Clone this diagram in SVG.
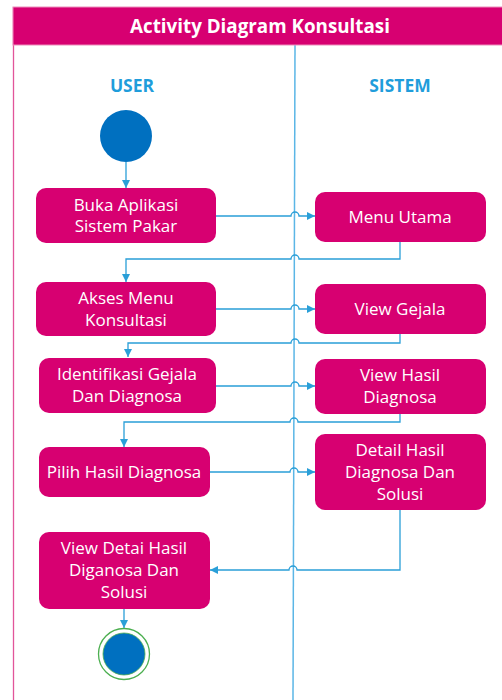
<svg xmlns="http://www.w3.org/2000/svg" width="502" height="700" viewBox="0 0 502 700">
<style>
.box{fill:#D70071;}
.bt{font-family:"Open Sans","Noto Sans",sans-serif;font-size:17px;fill:#ffffff;text-anchor:middle;}
.lane{font-family:"Open Sans","Noto Sans",sans-serif;font-size:17.5px;font-weight:bold;fill:#1F9DDB;text-anchor:middle;}
.c{fill:none;stroke:#2A9FD8;stroke-width:1.3;}
</style>
<defs>
<marker id="ah" viewBox="0 0 10 10" refX="10" refY="5" markerWidth="8" markerHeight="8" markerUnits="userSpaceOnUse" orient="auto">
<path d="M0,0 L10,5 L0,10 Z" fill="#2A9FD8"/>
</marker>
</defs>
<rect x="0" y="0" width="502" height="700" fill="#ffffff"/>
<g id="pool">
<line x1="13.5" y1="7" x2="13.5" y2="700" stroke="#E2559A" stroke-width="1.3"/>
<line x1="295" y1="45" x2="293" y2="700" stroke="#5BB6E6" stroke-width="1.5"/>
<rect x="13" y="7" width="495" height="38" fill="#D70071" stroke="#EC8DBB" stroke-width="1"/>
<text x="260" y="32.5" font-family="'Open Sans','Noto Sans',sans-serif" font-size="18.8px" font-weight="bold" fill="#ffffff" text-anchor="middle">Activity Diagram Konsultasi</text>
<text class="lane" x="132" y="92">USER</text>
<text class="lane" x="400" y="92">SISTEM</text>
</g>
<g id="connectors">
<path class="c" d="M126,162 L126,188" marker-end="url(#ah)"/>
<path class="c" d="M216,216 L291,216 A4,4 0 0 1 299,216 L315,216" marker-end="url(#ah)"/>
<path class="c" d="M400,242 L400,259 L299,259 A4,4 0 0 0 291,259 L126,259 L126,282" marker-end="url(#ah)"/>
<path class="c" d="M216,309 L291,309 A4,4 0 0 1 299,309 L315,309" marker-end="url(#ah)"/>
<path class="c" d="M400,334 L400,343 L299,343 A4,4 0 0 0 291,343 L128,343 L128,357" marker-end="url(#ah)"/>
<path class="c" d="M216,386 L291,386 A4,4 0 0 1 299,386 L315,386" marker-end="url(#ah)"/>
<path class="c" d="M400,414 L400,422 L298,422 A4,4 0 0 0 290,422 L124,422 L124,447" marker-end="url(#ah)"/>
<path class="c" d="M210,472 L290,472 A4,4 0 0 1 298,472 L315,472" marker-end="url(#ah)"/>
<path class="c" d="M400,510 L400,570 L297,570 A4,4 0 0 0 289,570 L210,570" marker-end="url(#ah)"/>
<path class="c" d="M124,609 L124,628" marker-end="url(#ah)"/>
</g>
<g id="start"><circle cx="126" cy="136" r="26" fill="#0070C0"/></g>
<g id="n1"><rect class="box" x="36" y="188" width="180" height="55" rx="10"/><text class="bt" x="126" y="211">Buka Aplikasi</text><text class="bt" x="126" y="232">Sistem Pakar</text></g>
<g id="n2"><rect class="box" x="315" y="192" width="171" height="50" rx="10"/><text class="bt" x="400" y="223">Menu Utama</text></g>
<g id="n3"><rect class="box" x="36" y="282" width="180" height="54" rx="10"/><text class="bt" x="126" y="304">Akses Menu</text><text class="bt" x="126" y="326">Konsultasi</text></g>
<g id="n4"><rect class="box" x="315" y="284" width="171" height="50" rx="10"/><text class="bt" x="400" y="315">View Gejala</text></g>
<g id="n5"><rect class="box" x="39" y="358" width="177" height="55" rx="10"/><text class="bt" x="127" y="380">Identifikasi Gejala</text><text class="bt" x="127" y="402">Dan Diagnosa</text></g>
<g id="n6"><rect class="box" x="315" y="359" width="171" height="55" rx="10"/><text class="bt" x="400" y="381">View Hasil</text><text class="bt" x="400" y="403">Diagnosa</text></g>
<g id="n7"><rect class="box" x="39" y="447" width="171" height="50" rx="10"/><text class="bt" x="124" y="478">Pilih Hasil Diagnosa</text></g>
<g id="n8"><rect class="box" x="315" y="434" width="171" height="76" rx="10"/><text class="bt" x="400" y="456">Detail Hasil</text><text class="bt" x="400" y="478">Diagnosa Dan</text><text class="bt" x="400" y="500">Solusi</text></g>
<g id="n9"><rect class="box" x="39" y="532" width="171" height="77" rx="10"/><text class="bt" x="124" y="554">View Detai Hasil</text><text class="bt" x="124" y="576">Diganosa Dan</text><text class="bt" x="124" y="598">Solusi</text></g>
<g id="end"><circle cx="124" cy="654" r="25.5" fill="#ffffff" stroke="#4CAF50" stroke-width="1.3"/><circle cx="124" cy="654" r="21" fill="#0070C0" stroke="#4CAF50" stroke-width="0.8"/></g>
</svg>
